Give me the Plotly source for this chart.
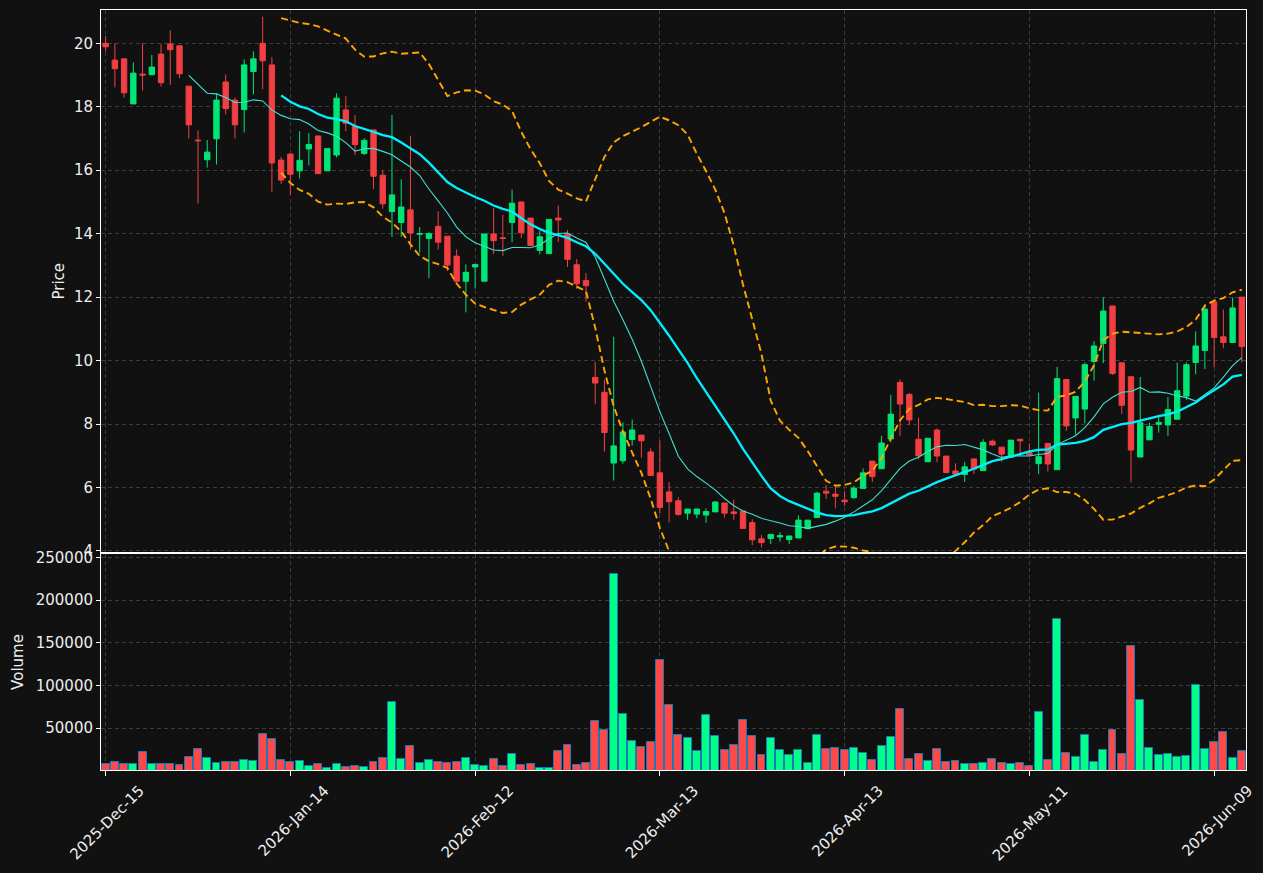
import pandas as pd
import plotly.graph_objects as go

# ---- data ----
tick_labels = ["2025-Dec-15", "2026-Jan-14", "2026-Feb-12", "2026-Mar-13",
               "2026-Apr-13", "2026-May-11", "2026-Jun-09"]
tick_index = [0, 20, 40, 60, 80, 100, 120]

opens = [20.0, 19.47, 19.51, 18.09, 19.03, 19.01, 19.66, 19.98, 19.92, 18.65,
         16.95, 16.33, 16.99, 18.78, 18.21, 17.91, 19.11, 20.0, 19.32, 16.32,
         16.51, 15.98, 16.67, 17.08, 15.98, 16.48, 17.9, 17.38, 16.53, 17.27,
         15.84, 14.7, 14.35, 14.75, 13.98, 13.85, 14.23, 13.92, 13.29, 12.5,
         12.95, 12.5, 13.99, 13.87, 14.35, 15.0, 14.49, 13.47, 13.37, 14.49,
         13.99, 13.02, 12.52, 9.47, 9.0, 6.77, 6.84, 7.51, 7.65, 7.12,
         6.46, 5.86, 5.58, 5.19, 5.16, 5.13, 5.23, 5.51, 5.23, 5.26,
         4.89, 4.38, 4.39, 4.44, 4.36, 4.41, 4.7, 5.05, 5.88, 5.79,
         5.6, 5.68, 5.97, 6.83, 6.59, 7.53, 9.31, 8.93, 7.52, 6.81,
         7.81, 6.99, 6.52, 6.41, 6.9, 6.53, 7.46, 7.27, 6.95, 7.52,
         7.11, 6.75, 7.39, 6.56, 9.4, 8.19, 8.47, 9.97, 10.54, 11.72,
         9.93, 9.49, 6.96, 7.5, 7.99, 7.97, 8.15, 8.88, 9.94, 10.32,
         11.85, 10.75, 10.57, 12.0]
highs = [20.23, 20.0, 19.51, 19.4, 20.0, 19.63, 19.97, 20.41, 19.92, 18.65,
         17.25, 16.95, 18.42, 19.02, 18.29, 19.49, 19.75, 20.84, 19.56, 16.42,
         16.51, 17.23, 17.17, 17.08, 16.68, 18.42, 18.33, 17.74, 17.01, 17.27,
         16.0, 17.74, 15.71, 17.09, 14.21, 14.04, 14.71, 13.92, 13.5, 13.03,
         13.03, 13.99, 14.8, 14.59, 15.39, 15.0, 14.49, 14.09, 14.45, 14.89,
         14.12, 13.2, 12.76, 9.96, 9.4, 10.75, 8.05, 8.14, 7.65, 7.23,
         7.49, 6.17, 5.69, 5.32, 5.32, 5.34, 5.57, 5.51, 5.62, 5.26,
         5.0, 4.51, 4.52, 4.59, 4.47, 5.12, 4.97, 5.86, 6.08, 6.03,
         5.89, 6.05, 6.6, 6.83, 7.63, 8.92, 9.4, 8.98, 8.2, 7.55,
         7.86, 6.99, 6.76, 6.81, 6.9, 7.52, 7.51, 7.27, 7.49, 7.52,
         7.39, 8.99, 7.39, 9.8, 9.4, 8.87, 9.94, 10.61, 11.99, 11.72,
         9.93, 9.49, 9.48, 8.04, 8.24, 8.85, 9.93, 9.94, 10.92, 11.78,
         11.9, 11.61, 11.99, 12.0]
lows = [19.74, 18.61, 18.29, 18.09, 18.51, 19.01, 18.64, 18.69, 18.9, 17.0,
        14.95, 16.08, 16.18, 17.76, 17.0, 17.19, 18.39, 18.55, 15.32, 15.57,
        15.23, 15.74, 16.15, 15.89, 15.98, 16.4, 17.23, 16.48, 16.48, 15.4,
        14.79, 13.9, 13.9, 13.5, 13.4, 12.6, 13.5, 12.82, 12.5, 11.52,
        12.27, 12.5, 13.36, 13.3, 13.73, 13.86, 13.63, 13.35, 13.37, 13.73,
        12.95, 12.26, 11.85, 8.62, 7.13, 6.22, 6.75, 7.32, 6.94, 6.36,
        5.18, 4.9, 5.11, 4.98, 5.03, 4.89, 5.23, 5.05, 4.98, 4.69,
        4.18, 4.11, 4.22, 4.29, 4.22, 4.41, 4.7, 5.05, 5.64, 5.34,
        5.42, 5.64, 5.97, 6.17, 6.59, 7.42, 7.63, 7.97, 6.89, 6.81,
        6.79, 6.47, 6.4, 6.17, 6.42, 6.53, 7.31, 6.81, 6.95, 7.08,
        6.98, 6.42, 6.5, 6.56, 7.78, 7.67, 8.02, 9.37, 9.92, 9.55,
        8.32, 6.16, 6.96, 7.5, 7.73, 7.63, 8.15, 8.76, 9.57, 9.73,
        9.8, 10.39, 10.55, 9.94]
closes = [19.89, 19.2, 18.44, 19.06, 19.0, 19.25, 18.76, 19.8, 19.04, 17.43,
          16.93, 16.57, 18.21, 17.94, 17.43, 19.32, 19.51, 19.45, 16.23, 15.69,
          15.87, 16.31, 16.81, 15.89, 16.68, 18.27, 17.48, 16.81, 16.94, 15.81,
          14.94, 15.22, 14.84, 14.02, 14.0, 14.0, 13.73, 13.01, 12.5, 12.78,
          13.03, 13.99, 13.78, 13.85, 14.96, 14.03, 13.63, 13.9, 14.45, 14.43,
          13.19, 12.42, 12.36, 9.29, 7.73, 7.31, 7.75, 7.81, 7.47, 6.38,
          5.37, 5.55, 5.15, 5.32, 5.32, 5.24, 5.54, 5.19, 5.18, 4.71,
          4.35, 4.26, 4.52, 4.48, 4.47, 4.97, 4.97, 5.82, 5.82, 5.72,
          5.55, 5.98, 6.46, 6.34, 7.4, 8.31, 8.63, 8.13, 7.0, 7.55,
          6.99, 6.47, 6.42, 6.65, 6.58, 7.42, 7.34, 7.05, 7.49, 7.47,
          7.02, 6.97, 6.74, 9.43, 7.94, 8.87, 9.87, 10.46, 11.56, 9.59,
          8.59, 7.18, 8.04, 7.92, 8.05, 8.46, 9.05, 9.87, 10.46, 11.62,
          10.73, 10.57, 11.66, 10.44]
volumes = [8140, 10465, 8140, 8140, 22090, 8140, 8140, 8140, 6510, 16280,
           25580, 15120, 9300, 10465, 10465, 12790, 11630, 43020, 37200, 12790,
           10465, 11630, 5810, 8140, 3490, 8140, 4650, 5810, 4650, 10465,
           15120, 80230, 13950, 29070, 9300, 12790, 10465, 9300, 10465, 15120,
           6980, 5810, 13950, 5810, 19770, 6980, 8140, 3900, 3490, 23260,
           30230, 6980, 9300, 58140, 47670, 230200, 66280, 34880, 27910, 33720,
           130230, 76740, 41860, 38370, 23260, 65120, 40700, 24420, 30230, 59300,
           40700, 18600, 38370, 24420, 18600, 24420, 9300, 41860, 25580, 26740,
           24420, 26740, 20930, 12790, 29070, 39540, 72090, 13950, 19770, 11630,
           25580, 10465, 11630, 8140, 8140, 9300, 13950, 9300, 8140, 9300,
           5810, 68600, 12790, 177910, 20930, 16280, 41860, 10465, 24420, 47670,
           19770, 146500, 82560, 26740, 18600, 19770, 16280, 17440, 101160, 25580,
           33720, 45350, 15120, 23260]

# ---- derived overlays (moving averages / Bollinger bands) ----
xs = list(range(len(closes)))
cs = pd.Series(closes)
ma10 = cs.rolling(10).mean()
ma20 = cs.rolling(20).mean()
sd20 = cs.rolling(20).std(ddof=0)
bb_up = ma20 + 2 * sd20
bb_lo = ma20 - 2 * sd20

UP = "#00e676"
DOWN = "#f23f43"
VUP = "#00ff88"
VDOWN = "#ff4848"
BG = "#111111"
GRID = "#3c3c3c"
TXT = "#eeeeee"

vol_colors = [VUP if c >= o else VDOWN for o, c in zip(opens, closes)]

fig = go.Figure()
fig.add_trace(go.Candlestick(
    x=xs, open=opens, high=highs, low=lows, close=closes,
    increasing=dict(line=dict(color=UP, width=1), fillcolor=UP),
    decreasing=dict(line=dict(color=DOWN, width=1), fillcolor=DOWN),
    whiskerwidth=0, xaxis="x", yaxis="y", showlegend=False))
fig.add_trace(go.Scatter(x=xs, y=bb_up, mode="lines", xaxis="x", yaxis="y",
                         line=dict(color="#ffa500", width=1.9, dash="7px,4px"),
                         showlegend=False))
fig.add_trace(go.Scatter(x=xs, y=bb_lo, mode="lines", xaxis="x", yaxis="y",
                         line=dict(color="#ffa500", width=1.9, dash="7px,4px"),
                         showlegend=False))
fig.add_trace(go.Scatter(x=xs, y=ma10, mode="lines", xaxis="x", yaxis="y",
                         line=dict(color="#40e0d0", width=1.1), showlegend=False))
fig.add_trace(go.Scatter(x=xs, y=ma20, mode="lines", xaxis="x", yaxis="y",
                         line=dict(color="#00f0ff", width=2.3), showlegend=False))
fig.add_trace(go.Bar(x=xs, y=volumes, width=0.86, xaxis="x2", yaxis="y2",
                     marker=dict(color=vol_colors, line=dict(color="#1f77b4", width=1)),
                     showlegend=False))

font = dict(family="DejaVu Sans", size=15, color=TXT)
common_x = dict(range=[-0.5, 123.45], tickmode="array", tickvals=tick_index,
                showgrid=True, gridcolor=GRID, griddash="4px,3px", gridwidth=1,
                showline=True, linecolor="#ffffff", linewidth=1, mirror=True,
                zeroline=False, automargin=False)
fig.update_layout(
    width=1263, height=873, autosize=False,
    paper_bgcolor=BG, plot_bgcolor=BG, font=font,
    margin=dict(l=101, r=17, t=10, b=103, pad=0),
    showlegend=False, bargap=0, boxgap=0.42, boxgroupgap=0,
    xaxis=dict(anchor="y", showticklabels=False, ticks="",
               rangeslider=dict(visible=False), **common_x),
    xaxis2=dict(anchor="y2", matches="x", ticktext=tick_labels,
                ticks="outside", ticklen=5, tickcolor="#ffffff", tickangle=-45,
                ticklabelshift=34, tickfont=font, **common_x),
    yaxis=dict(domain=[0.2862, 1], range=[3.95, 21.05], tickmode="array",
               tickvals=[4, 6, 8, 10, 12, 14, 16, 18, 20],
               ticks="outside", ticklen=4, tickcolor="#ffffff",
               showgrid=True, gridcolor=GRID, griddash="4px,3px",
               showline=True, linecolor="#ffffff", mirror=True, zeroline=False,
               automargin=False,
               title=dict(text="Price", font=font, standoff=5)),
    yaxis2=dict(domain=[0, 0.2842], range=[1160, 253800], tickmode="array",
                tickvals=[50000, 100000, 150000, 200000, 250000],
                ticktext=["50000", "100000", "150000", "200000", "250000"],
                ticks="outside", ticklen=4, tickcolor="#ffffff",
                showgrid=True, gridcolor=GRID, griddash="4px,3px",
                showline=True, linecolor="#ffffff", mirror=True, zeroline=False,
                automargin=False,
                title=dict(text="Volume", font=font, standoff=8)),
)

fig.write_html("out.html")
